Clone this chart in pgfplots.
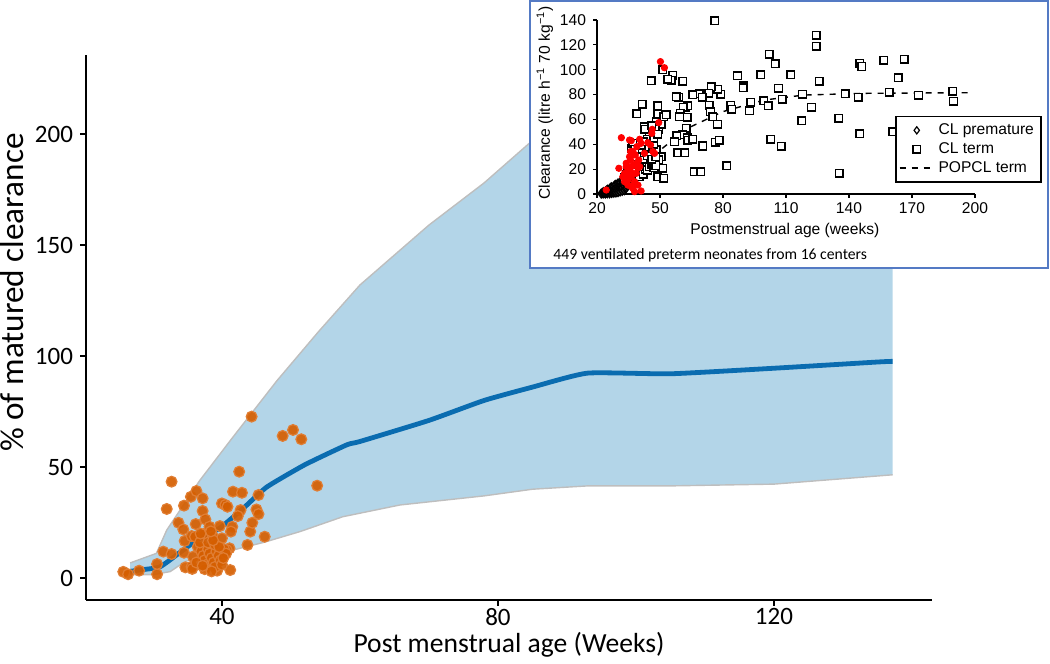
\documentclass[border=0pt]{standalone}
\usepackage{pgfplots}
\pgfplotsset{compat=1.18}
\usepgfplotslibrary{fillbetween}
\usepackage{fontspec}
\setmainfont{Carlito}
\newfontfamily\arialf{Liberation Sans}

\definecolor{ribbon}{RGB}{179,213,232}
\definecolor{ribedge}{RGB}{190,190,190}
\definecolor{medline}{RGB}{10,108,176}
\definecolor{dotfill}{RGB}{213,94,0}
\definecolor{dotedge}{RGB}{224,126,52}
\definecolor{insetblue}{RGB}{84,122,196}

\begin{document}
\begin{tikzpicture}

% main panel
\begin{axis}[at={(43pt,32pt)}, anchor=south west, scale only axis,
  width=423pt, height=272.5pt,
  xmin=20.3, xmax=142.9, ymin=-9.9, ymax=235.6,
  axis x line*=bottom, axis y line*=left,
  axis line style={line width=1.2pt,-},
  xtick={40,80,120}, ytick={0,50,100,150,200},
  tick align=outside, major tick length=3pt,
  tick style={black, line width=0.8pt},
  /pgf/number format/assume math mode=true,
  ticklabel style={font=\fontsize{12.5}{14}\selectfont},
  xticklabel style={inner sep=1pt},
  xlabel={Post menstrual age (Weeks)},
  ylabel={\% of matured clearance},
  xlabel style={at={(axis description cs:0.5,-0.083)}, anchor=center,
    inner sep=0pt, font=\fontsize{13.8}{16}\selectfont},
  ylabel style={at={(axis description cs:-0.087,0.564)}, anchor=center,
    inner sep=0pt, font=\fontsize{16.6}{18}\selectfont},
  clip=false]

\addplot[name path=up, draw=none] coordinates {
(26.7,6.8) (30.5,11.1) (32,21.6) (36.8,44) (41.6,63.5) (48,89) (54,111)
(60,132) (70,159) (78,178) (84.6,196) (90,195) (100,195) (115,195)
(130,195) (137.2,195)};
\addplot[name path=lo, draw=none] coordinates {
(26.7,1.5) (30,1.5) (32.5,2.9) (34.6,7.3) (37,10) (41.6,12.6) (46,16)
(51.3,20.9) (57.5,27.6) (65.8,32.9) (78,37) (85,40) (93,41.5) (105,41.5)
(120,42.3) (137.2,46.5)};
\addplot[ribbon, draw=none] fill between[of=up and lo];
\addplot[ribedge, line width=0.7pt] coordinates {
(26.7,6.8) (30.5,11.1) (32,21.6) (36.8,44) (41.6,63.5) (48,89) (54,111)
(60,132) (70,159) (78,178) (84.6,196) (90,195) (100,195) (115,195)
(130,195) (137.2,195)};
\addplot[ribedge, line width=0.7pt] coordinates {
(26.7,1.5) (30,1.5) (32.5,2.9) (34.6,7.3) (37,10) (41.6,12.6) (46,16)
(51.3,20.9) (57.5,27.6) (65.8,32.9) (78,37) (85,40) (93,41.5) (105,41.5)
(120,42.3) (137.2,46.5)};

\addplot[medline, line width=2.4pt, smooth, tension=0.3] coordinates {
(26.7,3) (28,3.6) (31,5) (33.9,11.5) (36.8,18) (39.7,22.5) (43.3,32)
(46.5,41) (52,51) (58.1,60) (60,61.5) (70,71) (78,80) (85,86) (93,92.3)
(105,92) (120,94.5) (135,97.3) (137.2,97.6)};

\addplot[only marks, mark=*, mark size=2.7pt, fill=dotfill, draw=dotedge,
  line width=0.6pt, fill opacity=0.92] table {
x y
25.7 2.8
26.4 1.7
28.0 3.3
30.6 1.7
30.6 6.3
31.5 11.9
32.7 10.8
32.0 31.1
32.7 43.4
33.7 24.9
34.4 21.9
34.5 11.4
34.6 16.7
34.7 4.8
35.6 5.1
35.7 4.1
35.8 9.6
34.5 32.6
35.5 36.6
36.3 39.2
37.2 35.9
37.2 30.2
36.2 24.3
35.6 18.9
36.1 18.6
37.6 26.4
37.4 19.8
38.2 23.1
38.7 18.6
39.7 23.4
40.0 17.9
40.0 33.6
40.5 32.9
40.8 32.1
39.3 3.3
41.2 3.6
41.6 38.9
42.5 47.9
42.9 38.4
42.7 30.6
42.3 27.9
41.5 23.1
41.3 20.9
41.1 13.4
40.7 12.6
43.7 14.9
44.1 20.9
44.4 24.9
45.0 30.9
45.3 28.8
45.3 37.4
46.2 18.6
44.3 72.7
48.8 64.0
50.3 66.7
51.5 62.5
53.8 41.6
36.5 14
37.0 12
37.3 10
37.5 8
37.8 6
38.0 13
38.2 11
38.5 9
38.8 7
39.0 5
39.2 12
39.5 10
39.8 8
40.0 6
36.8 16
38.0 16
39.0 15
40.3 13
40.6 11
37.5 4
38.5 3
36.3 7
39.6 14
38.7 17
37.2 5.5
40.2 9
36.9 20
38.4 21
};
\end{axis}

% inset frame
\draw[insetblue, line width=1pt, fill=white] (265pt,198pt) rectangle (524pt,331.5pt);
\node[anchor=west, font=\fontsize{7.85}{9}\selectfont, inner sep=0pt] at (276.5pt,204.5pt)
  {449 ventilated preterm neonates from 16 centers};

% inset panel
\begin{axis}[at={(298.5pt,235pt)}, anchor=south west, scale only axis,
  width=189pt, height=87pt,
  xmin=20, xmax=200, ymin=0, ymax=140,
  axis x line*=bottom, axis y line*=left,
  axis line style={line width=0.6pt,-},
  xtick={20,50,...,200}, ytick={0,20,...,140},
  tick align=outside, major tick length=2pt,
  tick style={black, line width=0.6pt},
  /pgf/number format/assume math mode=true,
  ticklabel style={font=\arialf\fontsize{7.8}{9}\selectfont},
  xticklabel style={yshift=1pt},
  xlabel={Postmenstrual age (weeks)},
  ylabel={Clearance (litre h\textsuperscript{−1} 70 kg\textsuperscript{−1})},
  label style={font=\arialf\fontsize{7.8}{9}\selectfont},
  xlabel style={at={(axis description cs:0.497,-0.207)}, anchor=center},
  ylabel style={at={(axis description cs:-0.138,0.523)}, anchor=center},
  legend style={at={(axis description cs:1.176,0.065)}, anchor=south east,
    font=\arialf\fontsize{7.8}{9}\selectfont, draw=black, line width=0.6pt,
    inner sep=1.5pt, row sep=-1.5pt},
  legend cell align=left,
  clip=false]

\addplot[only marks, mark=diamond*, mark size=2.2pt, draw=black, fill=black!80,
  line width=0.6pt, legend image post style={fill=white, mark size=1.8pt}] table {
x y
22 0.3
22.5 0.8
23 0.5
23 1.5
23.5 1
24 0.4
24 2
24.5 1.2
24.5 2.8
25 0.6
25 1.8
25 3.4
25.5 2.5
26 0.5
26 1.5
26 3
26 4.2
26.5 2.2
26.5 5
27 0.8
27 2
27 3.5
27 5.5
27.5 4.5
28 1
28 2.5
28 4
28 6
28.5 3
28.5 7
29 1.2
29 3.5
29 5
29 7.5
29.5 2.5
29.5 6
30 1.5
30 4
30 6.5
30 8.5
30.5 3
30.5 7.5
31 2
31 5
31 8
31 9.5
31.5 4
31.5 6.5
32 2.5
32 5.5
32 8.5
32 10
32.5 7
33 3
33 6
33 9
33.5 4.5
33.5 10.5
34 5
34 7.5
34 9.5
34.5 6.5
35 8
35 10
36 9
36 11
37 10
38 11
};
\addlegendentry{CL premature}

\addplot[only marks, mark=square*, mark size=1.9pt, draw=black, fill=white,
  line width=0.7pt] table {
x y
76.0 139.5
124.4 127.9
124.4 118.8
102.0 112.6
104.8 104.9
112.2 96.0
98.0 96.0
86.9 95.2
106.4 85.0
125.9 90.7
89.6 86.9
89.6 85.6
145.2 105.1
146.0 102.5
156.6 107.8
166.2 108.6
163.5 93.6
159.1 81.8
173.1 79.4
189.5 82.6
189.8 74.8
138.2 80.7
144.4 77.8
117.9 80.2
108.1 76.2
99.4 75.1
101.5 70.8
93.3 74.0
92.6 66.8
83.8 71.6
84.1 68.1
79.0 80.2
77.6 84.2
74.4 86.4
73.2 81.0
68.7 80.5
70.0 78.0
65.6 79.7
73.5 71.6
74.0 66.2
75.1 62.2
62.2 69.7
63.2 70.8
61.1 69.7
58.8 77.8
57.8 78.3
59.6 64.9
59.3 62.2
62.9 61.7
62.4 52.8
60.8 47.5
58.0 46.7
62.9 45.3
63.2 43.4
65.6 44.0
56.9 42.1
58.5 33.3
61.9 33.3
66.4 18.0
69.5 18.0
70.3 39.4
76.2 41.6
78.2 43.4
77.4 56.3
81.9 22.8
45.8 91.2
41.5 72.1
39.0 64.6
51.3 99.8
56.1 95.7
55.3 91.7
53.7 92.3
60.8 90.9
49.0 70.8
49.0 64.4
48.2 58.2
51.8 62.2
52.9 63.6
49.4 51.5
50.5 56.3
47.7 52.0
42.6 54.2
42.6 51.5
45.3 43.4
44.2 36.7
48.2 35.4
48.6 19.3
49.0 13.9
51.8 12.6
51.3 20.7
50.5 30.0
49.3 27.4
44.5 24.7
43.4 22.0
39.8 13.9
36.3 36.7
37.1 40.8
41.8 30.6
102.8 44.0
107.8 38.6
70.3 38.6
117.5 59.0
122.1 69.7
135.2 60.9
135.3 16.6
145.2 48.3
160.9 50.2
46.6 40.8
45.8 31.4
38.7 27.4
34.7 19.3
37.9 20.7
40 14
41 18
42 16
43 20
44 19
45 22
46 24
47 21
48 23
42 28
44 31
45 34
46 37
47 40
43 38
41 36
40 33
39 30
38 36
37 28
36 24
35 20
34 16
33 13
38 18
40 22
46 28
48 30
44 44
42 42
47 45
49 48
45 50
43 52
46 55
};
\addlegendentry{CL term}

\addplot[black, dashed, line width=0.7pt] coordinates {
(42,25) (49.7,34.8) (55,42) (64.8,54.2) (79.8,66.2) (99.6,75.6)
(118.5,79.6) (147,81) (196.8,81.5)};
\addlegendentry{POPCL term}

\addplot[only marks, mark=*, mark size=1.6pt, red, forget plot] table {
x y
50.2 106.5
52.1 101.6
49.4 57.4
46.3 52.0
46.1 48.8
31.6 45.3
30.4 20.7
35.5 43.4
36.3 42.9
40.3 44.0
41.0 40.8
39.0 38.1
37.1 34.1
42.6 32.7
41.0 2.4
24.4 3.2
36.0 27.4
33.9 24.7
37.9 23.3
35.5 19.3
33.1 16.6
36.3 13.9
37.9 9.9
34.7 7.2
37.1 4.6
39.5 7.2
38.7 16.6
34.7 11.3
32.3 13.9
39.9 27.4
38.2 31.4
36.0 34.1
46.6 34.1
47.4 32.7
45.5 39.4
44.2 41.3
33.9 22.0
36.3 22.0
39.5 20.7
37.1 16.6
34.7 15.3
33.1 9.9
36.3 5.9
37.9 1.9
35.5 30.0
38.7 24.7
40.3 22.0
};
\end{axis}

\pgfresetboundingbox
\path[use as bounding box] (0,0) rectangle (525pt,332pt);
\end{tikzpicture}
\end{document}
